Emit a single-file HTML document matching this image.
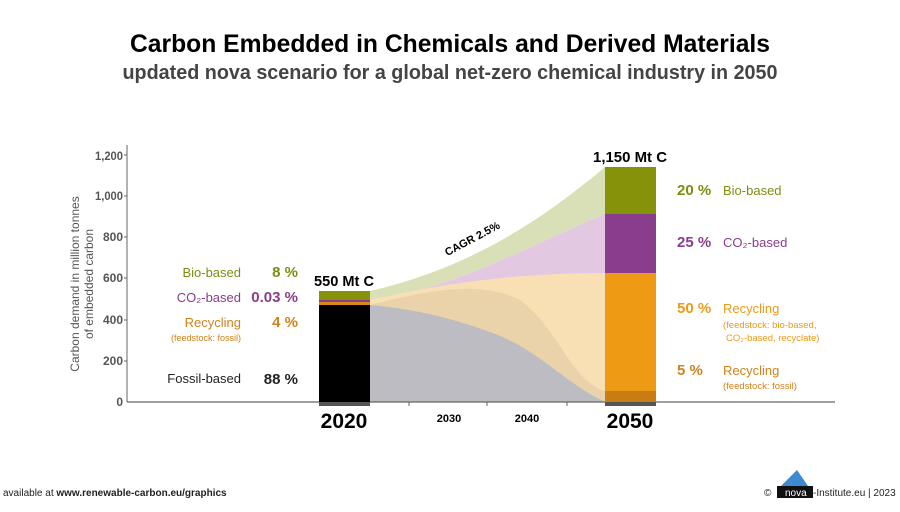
<!DOCTYPE html>
<html><head><meta charset="utf-8"><style>
body{margin:0;background:#fff;}
svg text{font-family:"Liberation Sans",sans-serif;}
</style></head><body>
<svg width="900" height="507" viewBox="0 0 900 507" xmlns="http://www.w3.org/2000/svg">
<text x="450" y="52" text-anchor="middle" font-size="25" font-weight="bold" fill="#000" textLength="640" lengthAdjust="spacingAndGlyphs">Carbon Embedded in Chemicals and Derived Materials</text>
<text x="450" y="79" text-anchor="middle" font-size="20" fill="#444" font-weight="bold" textLength="655" lengthAdjust="spacingAndGlyphs">updated nova scenario for a global net-zero chemical industry in 2050</text>

<!-- flows -->
<path d="M370,291 C460,270 530,230 605,167 L605,214 C520,250 450,290 370,300 Z" fill="#d9e0b8"/>
<path d="M370,300 C450,290 520,250 605,214 L605,273 C540,276 470,280 370,300 Z" fill="#e2c8e0"/>
<path d="M370,300 C450,282 520,273 605,273 L605,391 L370,305 Z" fill="#f9dfb4"/>
<path d="M370,305 C430,290 480,280 520,300 C560,330 570,380 605,391 L605,402 L370,402 Z" fill="#ead2aa"/>
<path d="M370,305 C420,310 450,318 490,332 C540,350 560,380 605,402 L370,402 Z" fill="#bdbcc2"/>

<!-- axes -->
<line x1="127" y1="145" x2="127" y2="402" stroke="#666" stroke-width="1"/>
<line x1="127" y1="402" x2="835" y2="402" stroke="#666" stroke-width="1.2"/>
<g font-size="12" fill="#555" text-anchor="end" font-weight="bold">
<text x="123" y="160" textLength="28" lengthAdjust="spacingAndGlyphs">1,200</text><text x="123" y="200" textLength="28" lengthAdjust="spacingAndGlyphs">1,000</text><text x="123" y="241">800</text>
<text x="123" y="282">600</text><text x="123" y="324">400</text><text x="123" y="365">200</text><text x="123" y="406">0</text>
</g>
<g stroke="#666"><line x1="124" y1="155" x2="127" y2="155"/><line x1="124" y1="196" x2="127" y2="196"/><line x1="124" y1="237" x2="127" y2="237"/><line x1="124" y1="278" x2="127" y2="278"/><line x1="124" y1="320" x2="127" y2="320"/><line x1="124" y1="361" x2="127" y2="361"/>
<line x1="409" y1="402" x2="409" y2="406"/><line x1="487" y1="402" x2="487" y2="406"/><line x1="567" y1="402" x2="567" y2="406"/></g>
<text transform="translate(79,284) rotate(-90)" text-anchor="middle" font-size="12" fill="#555">Carbon demand in million tonnes</text>
<text transform="translate(93,284) rotate(-90)" text-anchor="middle" font-size="12" fill="#555">of embedded carbon</text>

<!-- 2020 bar -->
<rect x="319" y="291" width="51" height="9" fill="#86920a"/>
<rect x="319" y="300" width="51" height="2" fill="#8a3d8c"/>
<rect x="319" y="302" width="51" height="3" fill="#d98a1a"/>
<rect x="319" y="305" width="51" height="97" fill="#000"/>
<rect x="319" y="402" width="51" height="4" fill="#555"/>
<text x="344" y="286" text-anchor="middle" font-size="15" font-weight="bold" textLength="60" lengthAdjust="spacingAndGlyphs">550 Mt C</text>
<text x="344" y="428" text-anchor="middle" font-size="21" font-weight="bold">2020</text>

<!-- 2050 bar -->
<rect x="605" y="167" width="51" height="47" fill="#86920a"/>
<rect x="605" y="214" width="51" height="59" fill="#8a3d8c"/>
<rect x="605" y="273" width="51" height="118" fill="#ee9a14"/>
<rect x="605" y="391" width="51" height="11" fill="#c97c14"/>
<rect x="605" y="402" width="51" height="4" fill="#555"/>
<text x="630" y="162" text-anchor="middle" font-size="15" font-weight="bold" textLength="74" lengthAdjust="spacingAndGlyphs">1,150 Mt C</text>
<text x="630" y="428" text-anchor="middle" font-size="21" font-weight="bold">2050</text>

<g font-size="11" font-weight="bold" text-anchor="middle"><text x="449" y="422">2030</text><text x="527" y="422">2040</text></g>
<text transform="translate(474,242) rotate(-28)" text-anchor="middle" font-size="11" font-weight="bold">CAGR 2.5%</text>

<!-- left labels -->
<g font-size="13" text-anchor="end">
<text x="241" y="277" fill="#7f8c0e">Bio-based</text>
<text x="241" y="302" fill="#8a3d8c">CO₂-based</text>
<text x="241" y="327" fill="#d0831a">Recycling</text>
<text x="241" y="341" font-size="9" fill="#d0831a">(feedstock: fossil)</text>
<text x="241" y="383" fill="#222">Fossil-based</text>
</g>
<g font-size="15" font-weight="bold" text-anchor="end">
<text x="298" y="277" fill="#7f8c0e">8 %</text>
<text x="298" y="302" fill="#8a3d8c">0.03 %</text>
<text x="298" y="327" fill="#d0831a">4 %</text>
<text x="298" y="384" fill="#222">88 %</text>
</g>

<!-- right labels -->
<g font-size="15" font-weight="bold">
<text x="677" y="195" fill="#7f8c0e">20 %</text>
<text x="677" y="247" fill="#8a3d8c">25 %</text>
<text x="677" y="313" fill="#ee9a14">50 %</text>
<text x="677" y="375" fill="#d0831a">5 %</text>
</g>
<g font-size="13">
<text x="723" y="195" fill="#7f8c0e">Bio-based</text>
<text x="723" y="247" fill="#8a3d8c">CO₂-based</text>
<text x="723" y="313" fill="#ee9a14">Recycling</text>
<text x="723" y="328" font-size="9.5" fill="#ee9a14">(feedstock: bio-based,</text>
<text x="726" y="341" font-size="9.5" fill="#ee9a14">CO₂-based, recyclate)</text>
<text x="723" y="375" fill="#d0831a">Recycling</text>
<text x="723" y="389" font-size="9.5" fill="#d0831a">(feedstock: fossil)</text>
</g>

<!-- footer -->
<text x="3" y="496" font-size="10" fill="#222">available at <tspan font-weight="bold">www.renewable-carbon.eu/graphics</tspan></text>
<text x="764" y="496" font-size="10" fill="#222">©</text>
<rect x="777" y="486" width="36" height="12" fill="#111"/>
<path d="M781,486 L797,470 L808,486 Z" fill="#3d8ad0"/>
<text x="785" y="496" font-size="10" fill="#fff">nova</text>
<text x="813" y="496" font-size="10" fill="#222">-Institute.eu | 2023</text>
</svg>
</body></html>
